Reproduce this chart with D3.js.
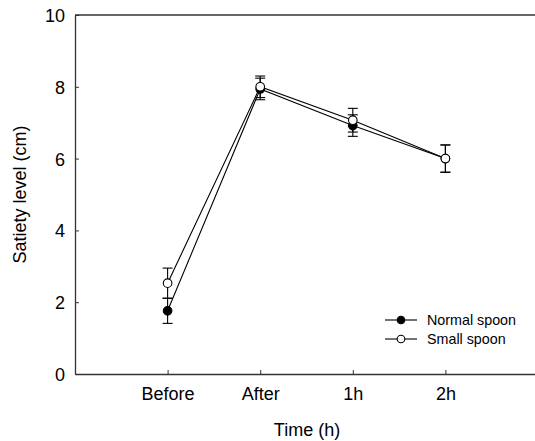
<!DOCTYPE html>
<html>
<head>
<meta charset="utf-8">
<script src="https://cdn.jsdelivr.net/npm/d3@7"></script>
<style>
  body { margin: 0; background: #fff; }
  text { font-family: "Liberation Sans", Arial, sans-serif; fill: #000; }
</style>
</head>
<body>
<div id="chart"></div>
<script>
/* DATA */
const categories = ["Before", "After", "1h", "2h"];
const normalMean = [1.76, 7.94, 6.92, 6.00];
const normalSE = [0.35, 0.30, 0.30, 0.38];
const smallMean = [2.53, 8.00, 7.07, 6.00];
const smallSE = [0.42, 0.30, 0.33, 0.38];
const yTicks = [0, 2, 4, 6, 8, 10];

const width = 535,
  height = 441,
  margin = { top: 15, bottom: 67, left: 75, right: -3 },
  radius = 4.3;

const series = [
  { name: "Normal spoon", mean: normalMean, se: normalSE, fill: "#000" },
  { name: "Small spoon", mean: smallMean, se: smallSE, fill: "#fff" }
];

const svg = d3.select("#chart")
  .append("svg")
  .attr("width", width)
  .attr("height", height);

// scales -- categories sit at 1..4 on a 0..5 axis
const xScale = d3.scaleLinear()
  .domain([0, categories.length + 1])
  .range([margin.left, width - margin.right]);

const yScale = d3.scaleLinear()
  .domain([0, 10])
  .range([height - margin.bottom, margin.top]);

// axes
const xAxis = d3.axisBottom(xScale)
  .tickValues(d3.range(1, categories.length + 1))
  .tickFormat(i => categories[i - 1])
  .tickSizeInner(-4)
  .tickSizeOuter(0)
  .tickPadding(13);

const yAxis = d3.axisLeft(yScale)
  .tickValues(yTicks)
  .tickSizeInner(-4)
  .tickSizeOuter(0)
  .tickPadding(10);

const xAxisGroup = svg.append("g")
  .attr("transform", `translate(0, ${yScale(0)})`)
  .call(xAxis);

const yAxisGroup = svg.append("g")
  .attr("transform", `translate(${margin.left}, 0)`)
  .call(yAxis);

[xAxisGroup, yAxisGroup].forEach(g => {
  g.select(".domain").attr("stroke", "#333").attr("stroke-width", 1.3);
  g.selectAll(".tick line").attr("stroke", "#333").attr("stroke-width", 1);
  g.selectAll(".tick text").attr("font-size", 18).attr("fill", "#000");
});
yAxisGroup.selectAll(".tick text").attr("dy", "0.36em");

// top frame line
svg.append("line")
  .attr("x1", xScale.range()[0])
  .attr("x2", xScale.range()[1])
  .attr("y1", yScale(10))
  .attr("y2", yScale(10))
  .attr("stroke", "#333")
  .attr("stroke-width", 1.3);

// axis titles
svg.append("text")
  .attr("x", 307)
  .attr("y", 436)
  .attr("text-anchor", "middle")
  .attr("font-size", 18)
  .text("Time (h)");

svg.append("text")
  .attr("transform", `translate(26, ${(yScale(0) + yScale(10)) / 2}) rotate(-90)`)
  .attr("text-anchor", "middle")
  .attr("font-size", 18)
  .text("Satiety level (cm)");

// lines, error bars, markers
const lineGen = d3.line()
  .x((d, i) => xScale(i + 1))
  .y(d => yScale(d));

series.forEach(s => {
  const g = svg.append("g");

  g.append("path")
    .attr("d", lineGen(s.mean))
    .attr("fill", "none")
    .attr("stroke", "#000")
    .attr("stroke-width", 1.1);

  const bars = g.selectAll(".err")
    .data(s.mean.map((m, i) => ({ i, m, e: s.se[i] })))
    .join("g")
    .attr("class", "err")
    .attr("stroke", "#000")
    .attr("stroke-width", 1.1);

  bars.append("line")
    .attr("x1", d => xScale(d.i + 1))
    .attr("x2", d => xScale(d.i + 1))
    .attr("y1", d => yScale(d.m - d.e))
    .attr("y2", d => yScale(d.m + d.e));

  [-1, 1].forEach(sign => {
    bars.append("line")
      .attr("x1", d => xScale(d.i + 1) - 5)
      .attr("x2", d => xScale(d.i + 1) + 5)
      .attr("y1", d => yScale(d.m + sign * d.e))
      .attr("y2", d => yScale(d.m + sign * d.e));
  });

  g.selectAll("circle")
    .data(s.mean)
    .join("circle")
    .attr("cx", (d, i) => xScale(i + 1))
    .attr("cy", d => yScale(d))
    .attr("r", radius)
    .attr("fill", s.fill)
    .attr("stroke", "#000")
    .attr("stroke-width", 1.1);
});

// legend
const legend = svg.append("g")
  .attr("transform", "translate(385, 320)");

const items = legend.selectAll("g")
  .data(series)
  .join("g")
  .attr("transform", (d, i) => `translate(0, ${i * 19})`);

items.append("line")
  .attr("x1", 0).attr("x2", 32)
  .attr("stroke", "#000")
  .attr("stroke-width", 1.1);

items.append("circle")
  .attr("cx", 16)
  .attr("r", 3.8)
  .attr("fill", d => d.fill)
  .attr("stroke", "#000")
  .attr("stroke-width", 1.1);

items.append("text")
  .attr("x", 42)
  .attr("dy", "0.35em")
  .attr("font-size", 14.3)
  .text(d => d.name);
</script>
</body>
</html>
